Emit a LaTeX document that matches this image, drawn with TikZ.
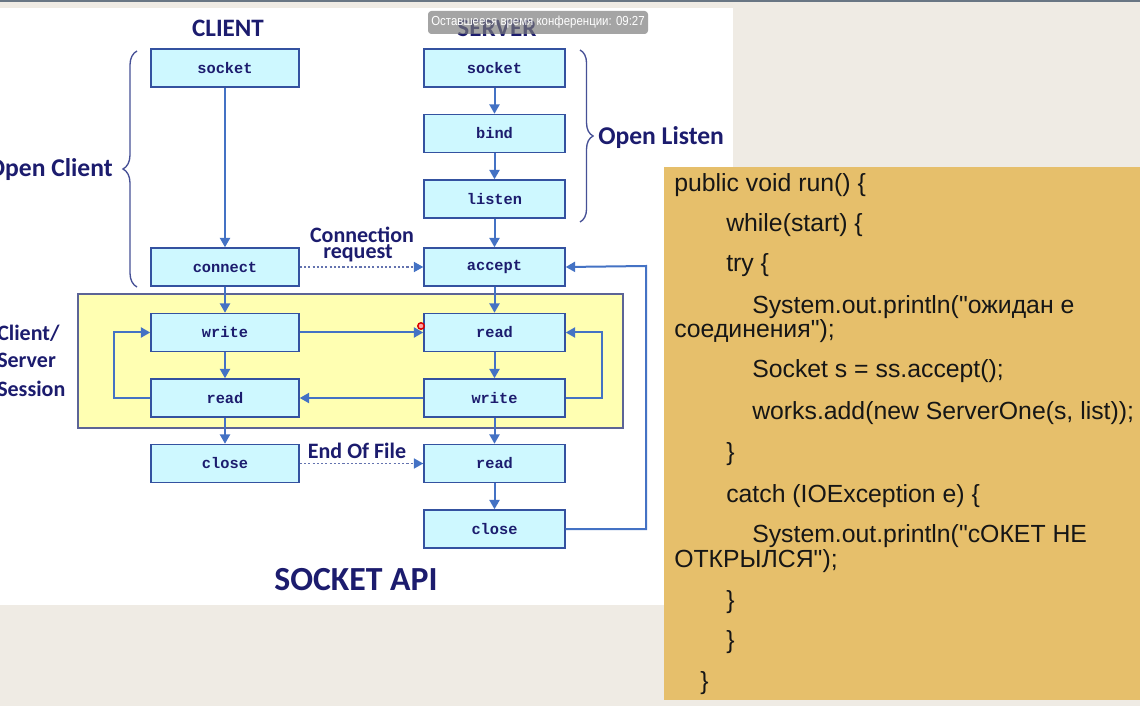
\documentclass[tikz,border=0pt]{standalone}
\usepackage{fontspec}
\usepackage{graphicx}
\setmainfont{Liberation Sans}
\newfontfamily\codefont{Liberation Sans}[Ligatures=TeXOff]
\newfontfamily\titlefont{Carlito}
\newfontfamily\monofnt{Liberation Mono}
\usetikzlibrary{arrows.meta,decorations.pathreplacing}
\definecolor{bgbeige}{RGB}{239,235,228}
\definecolor{topline}{RGB}{105,118,132}
\definecolor{navy}{RGB}{28,28,110}
\definecolor{boxfill}{RGB}{206,248,255}
\definecolor{boxline}{RGB}{52,82,160}
\definecolor{arrowc}{RGB}{68,114,196}
\definecolor{dotc}{RGB}{100,115,175}
\definecolor{sessfill}{RGB}{255,255,178}
\definecolor{sessline}{RGB}{92,100,150}
\definecolor{bracec}{RGB}{70,80,150}
\definecolor{codefill}{RGB}{230,191,107}
\definecolor{codetext}{RGB}{22,22,22}
\tikzset{
  fnbox/.style={draw=boxline, fill=boxfill, line width=1.1pt, inner sep=0pt,
    minimum height=28.5pt, text=navy, font=\monofnt\bfseries\fontsize{11.5}{13}\selectfont},
  cbox/.style={fnbox, minimum width=111pt},
  sbox/.style={fnbox, minimum width=105.75pt},
  flow/.style={draw=arrowc, line width=1.5pt, -{Triangle[length=7pt,width=7.5pt]}},
  dotflow/.style={draw=dotc, line width=1.2pt, dash pattern=on 1.6pt off 1.6pt,
    -{Triangle[length=7pt,width=7.5pt,color=arrowc,fill=arrowc]}},
  bigtitle/.style={text=navy, inner sep=0pt, font=\titlefont\bfseries\fontsize{18.8}{22}\selectfont},
  sidelabel/.style={text=navy, inner sep=0pt, font=\titlefont\bfseries\fontsize{19.2}{22}\selectfont},
  smalllabel/.style={text=navy, inner sep=0pt, font=\titlefont\bfseries\fontsize{16.5}{18}\selectfont},
  apititle/.style={text=navy, inner sep=0pt, font=\titlefont\bfseries\fontsize{25.3}{30}\selectfont},
  codeline/.style={text=codetext, inner sep=0pt, anchor=base west, font=\codefont\fontsize{18.6}{22}\selectfont},
  bracedeco/.style={draw=bracec, line width=1pt, decorate, decoration={brace, amplitude=#1}},
}
\begin{document}
\begin{tikzpicture}[x=0.75pt,y=-0.75pt]
\useasboundingbox (0,0) rectangle (1140,706);
% backgrounds
\fill[bgbeige] (0,0) rectangle (1140,706);
\fill[topline] (0,0) rectangle (1140,2.5);
\fill[white] (0,8) rectangle (733,605);

% session area
\draw[fill=sessfill, draw=sessline, line width=1.1pt] (78,294) rectangle (623,428);

% client column
\node[cbox] (csock) at (225,68) {socket};
\node[cbox] (cconn) at (225,267) {connect};
\node[cbox] (cwrite) at (225,332.5) {write};
\node[cbox] (cread) at (225,398) {read};
\node[cbox] (cclose) at (225,463.5) {close};

% server column
\node[sbox] (ssock) at (494.5,68) {socket};
\node[sbox] (sbind) at (494.5,133.5) {bind};
\node[sbox] (slisten) at (494.5,199) {listen};
\node[sbox] (saccept) at (494.5,267) {accept};
\node[sbox] (sread) at (494.5,332.5) {read};
\node[sbox] (swrite) at (494.5,398) {write};
\node[sbox] (sread2) at (494.5,463.5) {read};
\node[sbox] (sclose) at (494.5,529) {close};

% vertical flows
\draw[flow] (csock) -- (cconn);
\draw[flow] (cconn) -- (cwrite);
\draw[flow] (cwrite) -- (cread);
\draw[flow] (cread) -- (cclose);
\draw[flow] (ssock) -- (sbind);
\draw[flow] (sbind) -- (slisten);
\draw[flow] (slisten) -- (saccept);
\draw[flow] (saccept) -- (sread);
\draw[flow] (sread) -- (swrite);
\draw[flow] (swrite) -- (sread2);
\draw[flow] (sread2) -- (sclose);

% horizontal flows
\draw[flow] (cwrite.east) -- (sread.west);
\draw[flow] (swrite.west) -- (cread.east);
\draw[dotflow] (cconn.east) -- (saccept.west);
\draw[dotflow] (cclose.east) -- (sread2.west);

% loops
\coordinate (cl1) at (114,398);
\coordinate (cl2) at (114,332.5);
\draw[flow] (cread.west) -- (cl1) -- (cl2) -- (cwrite.west);
\coordinate (sl1) at (602,398);
\coordinate (sl2) at (602,332.5);
\draw[flow] (swrite.east) -- (sl1) -- (sl2) -- (sread.east);
\coordinate (rl1) at (646,529);
\coordinate (rl2) at (646,266);
\draw[flow] (sclose.east) -- (rl1) -- (rl2) -- (saccept.east);

% braces
\coordinate (cbb) at (137,287);
\coordinate (cbt) at (137,51);
\draw[bracedeco=10.5pt] (cbb) -- (cbt);
\coordinate (sbt) at (580,50);
\coordinate (sbb) at (580,222);
\draw[bracedeco=9.8pt] (sbt) -- (sbb);

% titles and labels
\node[bigtitle, anchor=base] (tclient) at (228,37) {CLIENT};
\node[bigtitle, anchor=base] (tserver) at (497,37) {SERVER};
\node[sidelabel, anchor=base east] (lopencl) at (113,177) {Open Client};
\node[sidelabel, anchor=base west] (lopenls) at (598,144.5) {Open Listen};
\node[smalllabel, anchor=base] (lconn) at (362,243) {Connection};
\node[smalllabel, anchor=base] (lreq) at (358,258.5) {request};
\node[smalllabel, anchor=base] (leof) at (357,458) {End Of File};
\node[smalllabel, anchor=base west] (ls1) at (-3,340) {Client/};
\node[smalllabel, anchor=base west] (ls2) at (-3,367.5) {Server};
\node[smalllabel, anchor=base west] (ls3) at (-3,396) {Session};
\node[apititle, anchor=base] (lapi) at (356,590) {SOCKET API};

% cursor dot
\draw[red!85!black, line width=1.1pt, fill=red!35] (421,326) circle (2.4pt);

% code panel
\fill[codefill] (664,167) rectangle (1140,700);
\node[codeline] (k1) at (674,192) {public void run() \{};
\node[codeline] (k2) at (726,232) {while(start) \{};
\node[codeline] (k3) at (726,272) {try \{};
\node[codeline] (k4) at (752,314) {System.out.println("ожидан е};
\node[codeline] (k5) at (674,338) {соединения");};
\node[codeline] (k6) at (752,378) {Socket s = ss.accept();};
\node[codeline] (k7) at (752,419) {works.add(new ServerOne(s, list));};
\node[codeline] (k8) at (726,460) {\}};
\node[codeline] (k9) at (726,502) {catch (IOException e) \{};
\node[codeline] (k10) at (752,542) {System.out.println("сОКЕТ НЕ};
\node[codeline] (k11) at (674,567) {ОТКРЫЛСЯ");};
\node[codeline] (k12) at (726,608) {\}};
\node[codeline] (k13) at (726,648) {\}};
\node[codeline] (k14) at (700,689) {\}};

% conference timer overlay
\fill[black!52, opacity=0.68, rounded corners=2.5pt] (428,11) rectangle (648,34);
\node[text=white, inner sep=0pt] (timer) at (538,22.5)
  {\resizebox{160pt}{\height}{\fontsize{9.8}{11}\selectfont Оставшееся время конференции: 09:27}};
\end{tikzpicture}
\end{document}
